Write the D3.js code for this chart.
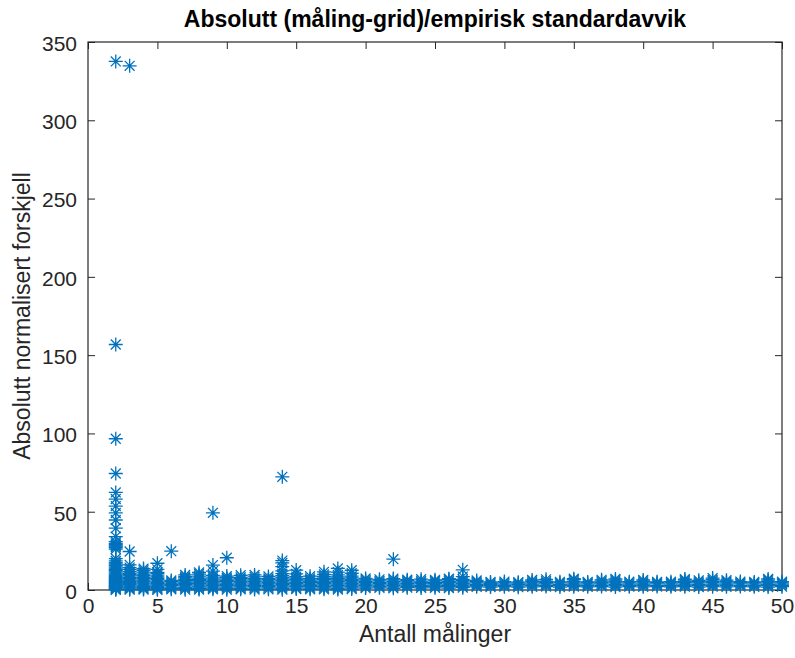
<!DOCTYPE html>
<html>
<head>
<meta charset="utf-8">
<script src="https://cdn.jsdelivr.net/npm/d3@7"></script>
<style>
  html, body { margin: 0; padding: 0; background: #ffffff; }
  svg { display: block; font-family: "Liberation Sans", Arial, Helvetica, sans-serif; }
</style>
</head>
<body>
<svg id="chart" width="795" height="658"></svg>
<script>
// Absolute normalised difference per number of measurements
const title = "Absolutt (måling-grid)/empirisk standardavvik";
const xLabel = "Antall målinger";
const yLabel = "Absolutt normalisert forskjell";

const xTicks = [0, 5, 10, 15, 20, 25, 30, 35, 40, 45, 50];
const yTicks = [0, 50, 100, 150, 200, 250, 300, 350];

// Number of measurements (x) and the values observed at each count (y)
const antall = [2, 3, 4, 5, 6, 7, 8, 9, 10, 11, 12, 13, 14, 15, 16, 17, 18, 19, 20,
  21, 22, 23, 24, 25, 26, 27, 28, 29, 30, 31, 32, 33, 34, 35, 36, 37, 38, 39, 40,
  41, 42, 43, 44, 45, 46, 47, 48, 49, 50];

const forskjell = [
  [0.1,0.4,0.9,1.3,1.8,2.2,2.7,3.1,3.6,4.2,4.8,5.3,5.9,6.6,7.2,7.9,8.5,9.3,10.1,10.8,11.6,12.4,13.1,14.0,14.8,15.7,16.5,17.4,18.6,20.1,26.2,27.3,28.1,28.9,29.8,30.9,34.1,39.5,44.7,49.2,53.6,58.1,62.3,74.4,96.6,156.8,337.6],
  [0.2,0.7,1.3,2.0,2.6,3.4,4.1,4.9,5.6,6.4,7.3,8.1,9.0,9.8,10.7,11.9,13.2,14.3,16.1,24.6,334.8],
  [0.3,0.9,1.6,2.4,3.1,3.9,4.6,5.5,6.3,7.2,8.0,9.1,10.2,11.4,12.6,13.7],
  [0.1,0.8,1.5,2.3,3.2,4.0,4.9,5.7,6.6,7.5,8.4,9.5,10.6,11.3,13.2,17.1],
  [0.4,1.1,1.9,2.8,3.5,4.4,5.3,6.1,24.8],
  [0.2,1.0,1.7,2.6,3.4,4.3,5.1,6.0,6.8,7.7,8.5,9.6],
  [0.3,0.9,1.8,2.5,3.3,4.2,5.0,5.9,6.7,7.6,8.8,10.1,11.2],
  [0.5,1.2,2.0,2.9,3.7,4.6,5.4,6.3,7.1,8.2,9.3,12.1,15.9,49.3],
  [0.2,1.0,1.9,2.7,3.6,4.4,5.3,6.2,7.0,7.9,8.9,20.6],
  [0.4,1.1,2.0,2.8,3.7,4.5,5.4,6.3,7.2,8.1,9.4],
  [0.3,1.2,2.1,2.9,3.8,4.6,5.6,6.5,7.3,8.4,9.6],
  [0.5,1.3,2.2,3.0,3.9,4.8,5.7,6.6,7.4,8.7],
  [0.2,0.9,1.8,2.6,3.5,4.3,5.2,6.1,7.0,7.9,9.1,10.4,12.2,14.9,17.3,18.8,72.3],
  [0.6,1.4,2.3,3.1,4.0,4.9,5.8,6.7,7.6,8.6,10.3,12.7],
  [0.4,1.2,2.1,3.0,3.8,4.7,5.6,6.5,7.4,8.8],
  [0.5,1.3,2.2,3.1,4.0,4.8,5.7,6.6,7.5,8.5,9.9,11.6],
  [0.3,1.1,2.0,2.8,3.7,4.6,5.5,6.4,7.3,8.3,9.6,11.4,13.8],
  [0.6,1.4,2.3,3.2,4.1,5.0,5.9,6.8,7.8,8.9,10.7,12.6],
  [1.2,2.0,2.9,3.8,4.7,5.6,6.5,7.4],
  [1.4,2.2,3.1,4.0,4.9,5.8,6.8],
  [1.1,2.0,2.9,3.8,4.6,5.5,6.5,7.3,19.7],
  [1.5,2.3,3.2,4.1,5.0,5.9,6.6],
  [1.3,2.2,3.0,3.9,4.8,5.7,6.9],
  [1.4,2.3,3.1,4.0,4.9,5.8,6.5],
  [1.2,2.1,3.0,3.8,4.7,5.6,6.7,7.2],
  [1.5,2.3,3.2,4.1,5.0,5.9,6.8,8.6,12.9],
  [2.0,2.8,3.6,4.5,5.3,6.1],
  [1.9,2.7,3.5,4.3,5.1],
  [2.1,2.9,3.8,4.6,5.4],
  [1.8,2.6,3.5,4.4,5.0],
  [2.0,2.9,3.7,4.6,5.5,6.4],
  [2.2,3.0,3.9,4.7,5.6,6.8],
  [1.9,2.8,3.6,4.5,5.2],
  [2.1,2.9,3.8,4.6,5.5,6.6,7.2],
  [2.0,2.8,3.7,4.5,5.1],
  [2.2,3.0,3.9,4.8,5.7,6.5],
  [1.9,2.8,3.6,4.5,5.4,6.3,7.1],
  [2.1,2.9,3.8,4.6,5.3],
  [2.0,2.9,3.7,4.6,5.5,6.4],
  [2.2,3.0,3.9,4.7,5.2],
  [2.0,2.8,3.7,4.5,5.3],
  [2.1,2.9,3.8,4.7,5.6,6.5,7.0],
  [1.9,2.8,3.6,4.5,5.4,6.2],
  [2.1,3.0,3.8,4.7,5.6,6.6,7.6],
  [2.0,2.9,3.7,4.6,5.5,6.3],
  [2.2,3.0,3.9,4.7,5.4],
  [2.0,2.8,3.7,4.5,5.1],
  [1.9,2.8,3.6,4.5,5.4,6.3,7.1],
  [2.1,2.9,3.8,4.6,5.3]
];

const points = antall.flatMap((n, i) => forskjell[i].map(v => ({ n, v })));

const width = 795, height = 658;
const margin = { top: 42, right: 13, bottom: 68, left: 88 };
const axisColor = "#262626";
const markerColor = "#0072BD";
const tickFont = 21;
const labelFont = 23;

const svg = d3.select("#chart");

const x = d3.scaleLinear().domain([0, 50]).range([margin.left, width - margin.right]);
const y = d3.scaleLinear().domain([0, 350]).range([height - margin.bottom, margin.top]);

const tickLen = 7;

// Box and inward ticks on all four sides
function styleAxis(g) {
  g.select(".domain").remove();
  g.selectAll(".tick line").attr("stroke", axisColor).attr("stroke-width", 1);
  g.selectAll(".tick text").attr("fill", axisColor).attr("font-size", tickFont);
}

svg.append("g")
  .attr("transform", `translate(0,${y(0)})`)
  .call(d3.axisBottom(x).tickValues(xTicks).tickSizeInner(-tickLen).tickSizeOuter(0).tickPadding(8))
  .call(styleAxis)
  .call(g => g.selectAll(".tick text").attr("dy", "0.71em"));

svg.append("g")
  .attr("transform", `translate(0,${y(350)})`)
  .call(d3.axisTop(x).tickValues(xTicks).tickSizeInner(-tickLen).tickSizeOuter(0).tickFormat(""))
  .call(styleAxis);

svg.append("g")
  .attr("transform", `translate(${x(0)},0)`)
  .call(d3.axisLeft(y).tickValues(yTicks).tickSizeInner(-tickLen).tickSizeOuter(0).tickPadding(11))
  .call(styleAxis)
  .call(g => g.selectAll(".tick text").attr("dy", "0.4em"));

svg.append("g")
  .attr("transform", `translate(${x(50)},0)`)
  .call(d3.axisRight(y).tickValues(yTicks).tickSizeInner(-tickLen).tickSizeOuter(0).tickFormat(""))
  .call(styleAxis);

svg.append("rect")
  .attr("x", x(0)).attr("y", y(350))
  .attr("width", x(50) - x(0)).attr("height", y(0) - y(350))
  .attr("fill", "none").attr("stroke", axisColor).attr("stroke-width", 1.2);

// Asterisk markers: plus and cross overlaid
const r = 7, d = r * Math.SQRT1_2;
const asterisk = `M${-r},0H${r}M0,${-r}V${r}M${-d},${-d}L${d},${d}M${-d},${d}L${d},${-d}`;

svg.append("g")
  .selectAll("path")
  .data(points)
  .join("path")
  .attr("transform", p => `translate(${x(p.n)},${y(p.v)})`)
  .attr("d", asterisk)
  .attr("fill", "none")
  .attr("stroke", markerColor)
  .attr("stroke-width", 1.3);

// Title and axis labels
svg.append("text")
  .attr("x", (x(0) + x(50)) / 2).attr("y", 27)
  .attr("text-anchor", "middle")
  .attr("font-size", labelFont).attr("font-weight", "bold").attr("fill", "#000")
  .text(title);

svg.append("text")
  .attr("x", (x(0) + x(50)) / 2).attr("y", 642)
  .attr("text-anchor", "middle")
  .attr("font-size", labelFont).attr("fill", axisColor)
  .text(xLabel);

svg.append("text")
  .attr("transform", `translate(30,${(y(0) + y(350)) / 2}) rotate(-90)`)
  .attr("text-anchor", "middle")
  .attr("font-size", labelFont).attr("fill", axisColor)
  .text(yLabel);
</script>
</body>
</html>
